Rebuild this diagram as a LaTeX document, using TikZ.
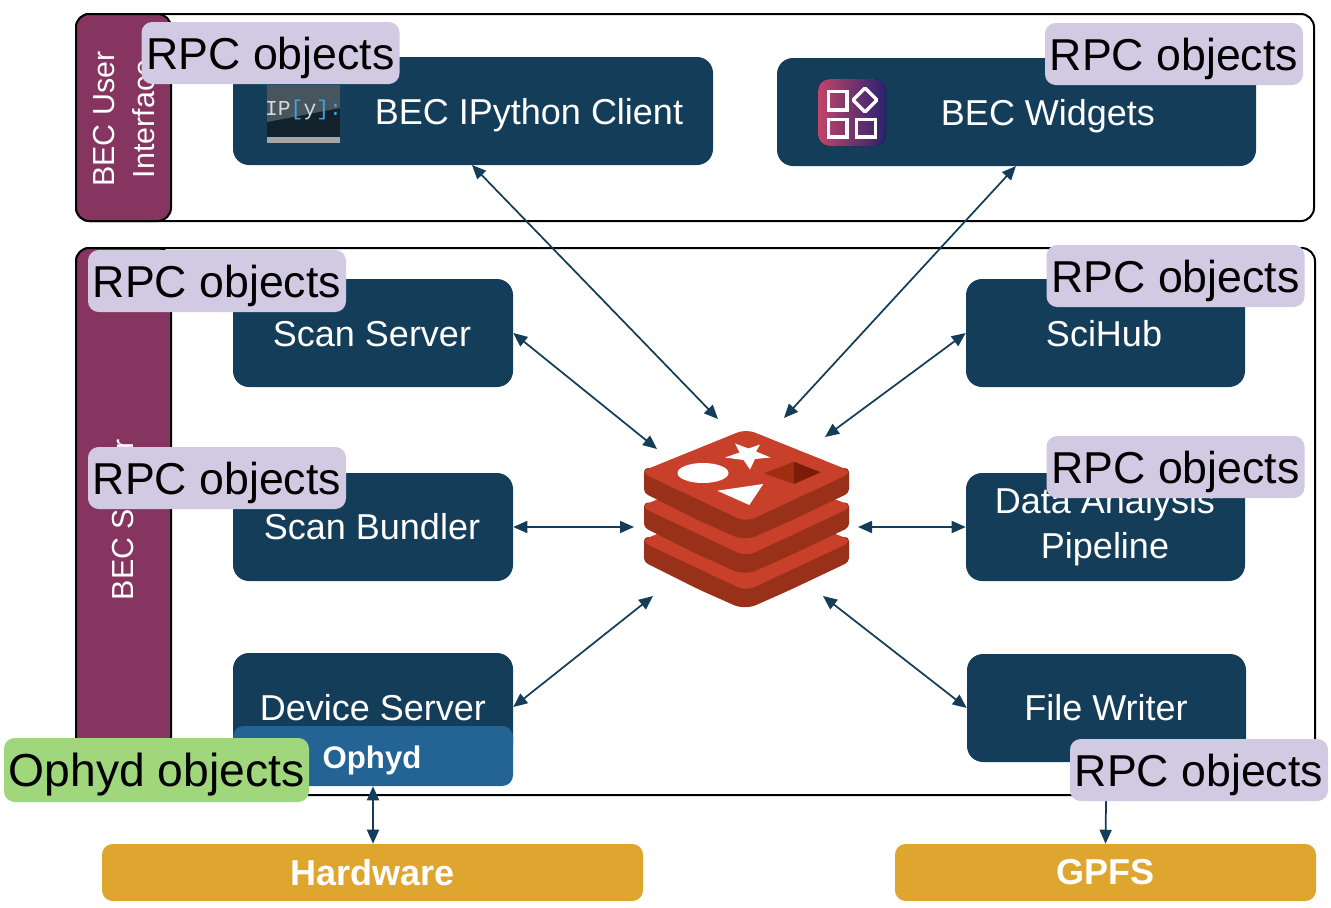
\documentclass[tikz,border=0pt]{standalone}
\usepackage{fontspec}
\setmainfont{Liberation Sans}
\newfontfamily\iconfont{Liberation Mono}
\usetikzlibrary{arrows.meta,shapes.geometric}
\definecolor{navy}{HTML}{143D59}
\definecolor{plum}{HTML}{85355F}
\definecolor{ophydblue}{HTML}{246494}
\definecolor{gold}{HTML}{DEA62E}
\definecolor{lilac}{HTML}{D2C9E2}
\definecolor{leaf}{HTML}{A0D67C}
\definecolor{redtop}{HTML}{C8402A}
\definecolor{redside}{HTML}{98301A}
\definecolor{reddeep}{HTML}{A02D12}
\definecolor{reddark}{HTML}{7A1C08}
\definecolor{ipblue}{HTML}{3DA5DC}
\definecolor{iplight}{HTML}{47555F}
\definecolor{ipdark}{HTML}{12222D}
\definecolor{wleft}{HTML}{C2456A}
\definecolor{wright}{HTML}{2A2270}
\tikzset{
  x=0.75pt,y=-0.75pt,
  frame/.style={draw=black,line width=1.5pt,rounded corners=10pt},
  sidebar/.style={draw=black,line width=1.5pt,fill=plum,rounded corners=10pt},
  sidetext/.style={text=white,rotate=90,align=center,font=\fontsize{22.8}{30}\selectfont},
  svc/.style={fill=navy,rounded corners=12pt,text=white,inner sep=0pt,align=center,
    font=\fontsize{27}{33.75}\selectfont},
  svclabel/.style={text=white,inner sep=0pt,font=\fontsize{27}{33.75}\selectfont},
  ophydbox/.style={fill=ophydblue,rounded corners=8pt,inner sep=0pt},
  ophydlabel/.style={text=white,inner sep=0pt,font=\fontsize{23.4}{26}\selectfont\bfseries},
  store/.style={fill=gold,rounded corners=8pt,text=white,inner sep=0pt,
    font=\fontsize{27}{30}\selectfont\bfseries},
  tag/.style={rounded corners=8pt,text=black,inner sep=0pt,text depth=0pt,
    font=\fontsize{33.5}{36}\selectfont},
  rpc/.style={tag,fill=lilac,minimum width=193.5pt,minimum height=46.5pt},
  link/.style={draw=navy,line width=1.3pt,{Triangle[length=10.5pt,width=9pt]}-{Triangle[length=10.5pt,width=9pt]}},
  linkone/.style={draw=navy,line width=1.3pt,-{Triangle[length=10.5pt,width=9pt]}},
  iconline/.style={draw=white,line width=2.6pt},
}
\newcommand{\redislayer}[1]{%
  \fill[redside,rounded corners=3pt,shift={(0,#1)}] (644,468)--(644,493)--(700,521) [rounded corners=9pt] --(745,541)--(790,521) [rounded corners=3pt] --(849,493)--(849,468)--cycle;
  \fill[redtop,rounded corners=7pt,shift={(0,#1)}] (640,472)--(746,429)--(853,472)--(746,522)--cycle;
}
\begin{document}
\begin{tikzpicture}
\useasboundingbox (0,0) rectangle (1331,907);
% frames
\node[frame,minimum width=928.5pt,minimum height=155.25pt,inner sep=0pt] (uiframe) at (695,117.5) {};
\node[frame,minimum width=929.25pt,minimum height=410.25pt,inner sep=0pt] (srvframe) at (695.5,521.5) {};
\node[sidebar,minimum width=71.25pt,minimum height=155.25pt,inner sep=0pt] (uibar) at (123.5,117.5) {};
\node[sidebar,minimum width=71.25pt,minimum height=410.25pt,inner sep=0pt] (srvbar) at (123.5,521.5) {};
\node[sidetext] (uitext) at (124,119) {BEC User\\Interface};
\node[sidetext] (srvtext) at (123,520) {BEC Server};
% Redis hub
\redislayer{69}
\redislayer{34.5}
\redislayer{0}
\fill[white] (703,473) ellipse [x radius=25.5,y radius=10];
\fill[white] (735,443.5)--(748.5,448.5)--(760,444.5)--(756,451.5)--(770.5,457.5)--(755,459)--(750,469.5)--(743.5,460)--(725,457.5)--(739.5,452.5)--cycle;
\fill[white] (717.3,490.7)--(763.3,484)--(749.3,505)--cycle;
\fill[reddeep] (764,473.3)--(794,461.7)--(794,484)--cycle;
\fill[reddark] (794,461.7)--(820.7,472.3)--(794,484)--cycle;
\coordinate (hubA) at (718,419);
\coordinate (hubB) at (784,418);
\coordinate (hubC) at (657,449);
\coordinate (hubD) at (825,437);
\coordinate (hubE) at (634,527);
\coordinate (hubF) at (858,527);
\coordinate (hubG) at (653,596);
\coordinate (hubH) at (823,596);
\coordinate (ipyport) at (472,165);
\coordinate (widport) at (1016,166);
% services
\node[svc,minimum width=360pt,minimum height=81pt] (ipy) at (473,111) {};
\node[svc,minimum width=359.25pt,minimum height=81pt] (wid) at (1016.5,112) {};
\node[svc,minimum width=210pt,minimum height=81pt] (scan) at (373,333) {};
\node[svc,minimum width=210pt,minimum height=81pt] (bund) at (373,527) {};
\node[svc,minimum width=210pt,minimum height=81pt] (dev) at (373,707) {};
\node[svc,minimum width=209.25pt,minimum height=81pt] (sci) at (1105.5,333) {};
\node[svc,minimum width=209.25pt,minimum height=81pt] (data) at (1105.5,527) {};
\node[svc,minimum width=209.25pt,minimum height=81pt] (file) at (1106.5,708) {};
\node[ophydbox,minimum width=210pt,minimum height=45pt] (oph) at (373,756) {};
\node[svclabel] (scantext) at (372,334) {Scan Server};
\node[svclabel] (bundtext) at (372,527) {Scan Bundler};
\node[svclabel] (scitext) at (1104,334) {SciHub};
\node[svclabel,align=center] (datatext) at (1105,527) {Data Analysis\\Pipeline};
\node[svclabel] (filetext) at (1106,708) {File Writer};
\node[svclabel] (devtext) at (373,708) {Device Server};
\node[ophydlabel] (ophtext) at (372,760) {Ophyd};
\node[svclabel] (ipytext) at (529,115) {BEC IPython Client};
\node[svclabel] (widtext) at (1048,116) {BEC Widgets};
% stores
\node[store,minimum width=405.75pt,minimum height=42.75pt] (hw) at (372.5,872.5) {Hardware};
\node[store,minimum width=315.75pt,minimum height=42.75pt] (gpfs) at (1105.5,872.5) {GPFS};
% IPython icon
\fill[ipdark] (267,85) rectangle (340,137);
\fill[iplight] (267,85)--(340,85)--(340,108)--(267,122)--cycle;
\fill[gray!70] (267,137) rectangle (340,143);
\node[inner sep=0pt,font=\iconfont\fontsize{16}{18}\selectfont,text=white!85!black] (ipicon) at (303.5,110) {IP\textcolor{ipblue}{[}y\textcolor{ipblue}{]:}};
% Widgets icon
\fill[left color=wleft,right color=wright,rounded corners=9pt] (818,79) rectangle (886,146);
\draw[iconline] (828.5,91.5) rectangle (847,110);
\draw[iconline] (828.5,119.5) rectangle (847,137);
\draw[iconline] (856.5,119.5) rectangle (875.5,137);
\draw[iconline,rounded corners=1pt] (865,88)--(877,100)--(865,112)--(853,100)--cycle;
% connectors
\draw[link] (ipyport) -- (hubA);
\draw[link] (widport) -- (hubB);
\draw[link] (scan.east) -- (hubC);
\draw[link] (sci.west) -- (hubD);
\draw[link] (bund.east) -- (hubE);
\draw[link] (data.west) -- (hubF);
\draw[link] (dev.east) -- (hubG);
\draw[link] (file.west) -- (hubH);
\draw[link] (oph.south) -- (oph.south |- hw.north);
\draw[linkone] (file.south) -- (gpfs.north);
% tags
\node[rpc] (r1) at (270.5,53) {RPC objects};
\node[rpc] (r2) at (1174,54) {RPC objects};
\node[rpc] (r3) at (217,281) {RPC objects};
\node[rpc] (r4) at (1175.5,276) {RPC objects};
\node[rpc] (r5) at (217,478) {RPC objects};
\node[rpc] (r6) at (1175.5,467) {RPC objects};
\node[rpc] (r7) at (1199,770) {RPC objects};
\node[tag,fill=leaf,minimum width=228.75pt,minimum height=48pt,font=\fontsize{34.7}{36}\selectfont] (o1) at (156.5,770) {Ophyd objects};
\end{tikzpicture}
\end{document}
